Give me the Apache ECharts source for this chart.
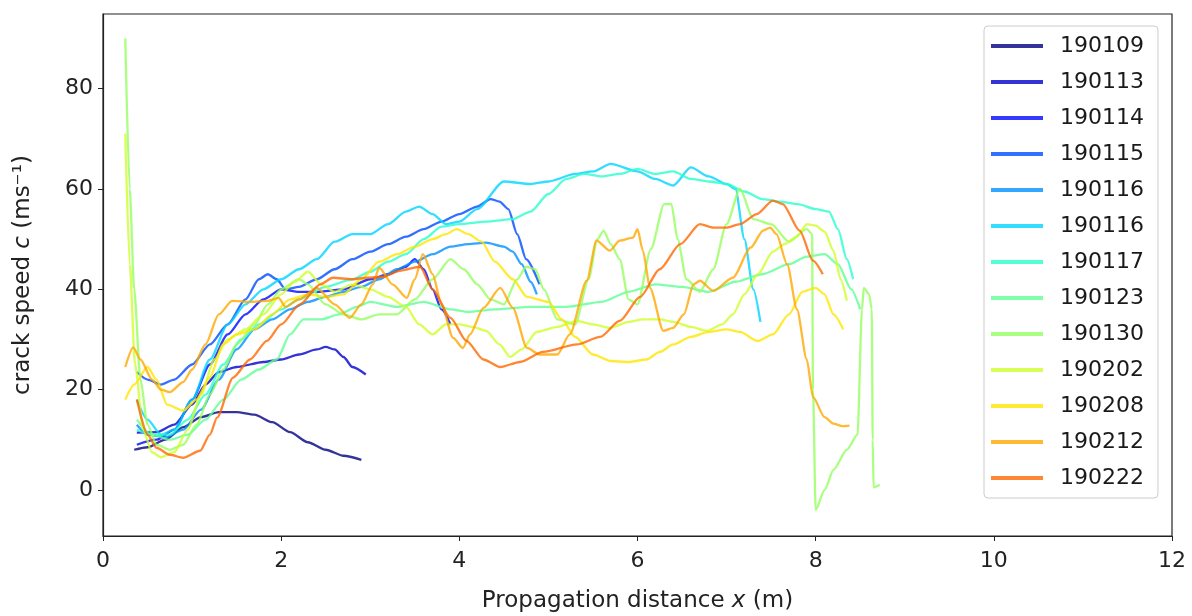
<!DOCTYPE html>
<html>
<head>
<meta charset="UTF-8"/>
<title>crack speed</title>
<script src="https://cdn.jsdelivr.net/npm/echarts@6/dist/echarts.min.js"></script>
<style>
  html, body { margin: 0; padding: 0; background: #fff; }
  #chart { width: 1192px; height: 616px; }
</style>
</head>
<body>
<div id="chart"></div>
<script type="text/javascript">

    // run names (legend order) and jet colours
    var runNames = ['190109', '190113', '190114', '190115', '190116', '190116', '190117',
                    '190123', '190130', '190202', '190208', '190212', '190222'];
    var runColors = ['#000080', '#0000cd', '#0008ff', '#004cff', '#0090ff', '#00d4ff', '#29ffce',
                     '#60ff96', '#96ff60', '#ceff29', '#ffe600', '#ffa700', '#ff6800'];

    // [x (m), c (m/s)]
    var r190109 = [[0.35,8],[0.5,8.5],[0.7,10],[0.9,12.5],[1.1,14.5],[1.3,15.5],[1.5,15.5],[1.7,15],
        [1.9,13.5],[2.1,11.5],[2.3,9.5],[2.5,8],[2.7,6.8],[2.9,6]];
    var r190113 = [[0.38,11.4],[0.6,11.5],[0.8,13],[1.0,17],[1.15,21],[1.3,23.5],[1.5,24.5],[1.8,25.5],
        [2.0,26],[2.2,27],[2.4,28],[2.5,28.5],[2.6,28],[2.7,26.5],[2.8,24.5],[2.95,23]];
    var r190114 = [[0.38,9],[0.6,10],[0.8,12],[1.0,18],[1.2,25],[1.4,31],[1.6,35],[1.8,38],[2.0,40],
        [2.2,39.5],[2.4,39.5],[2.7,40],[3.0,42],[3.2,43],[3.4,44.5],[3.5,46],[3.6,44],[3.7,40],[3.8,36],[3.9,33]];
    var r190115 = [[0.38,23.5],[0.5,22],[0.65,21],[0.8,22],[1.0,25],[1.2,29],[1.4,33],[1.6,38],[1.75,42],
        [1.85,43],[1.95,42],[2.05,40],[2.2,40.5],[2.4,42],[2.6,44],[2.8,46],[3.0,47.5],[3.2,49],[3.4,50.5],
        [3.6,52],[3.8,53.5],[4.0,55],[4.2,56.5],[4.35,58],[4.45,57.5],[4.55,56],[4.65,51],[4.75,46],[4.9,41]];
    var r190116a = [[0.38,13],[0.5,11],[0.7,10.5],[0.9,12],[1.1,16],[1.3,22],[1.5,28],[1.7,32],[1.9,34],
        [2.1,36],[2.3,37.5],[2.5,38.5],[2.7,39.5],[2.9,40.5],[3.1,42],[3.3,44],[3.5,45.5],[3.7,47],[3.9,48.5],
        [4.1,49],[4.3,49.3],[4.5,48.5],[4.6,47.5],[4.7,45],[4.8,41.5],[4.87,39]];
    var r190116b = [[0.38,18],[0.5,14],[0.65,11],[0.8,12],[1.0,18],[1.2,26],[1.4,33],[1.6,37],[1.8,40],
        [2.0,42],[2.2,44],[2.4,46],[2.6,49.5],[2.8,51],[3.0,51],[3.2,53],[3.4,55.5],[3.55,56.5],[3.7,55],
        [3.85,53],[4.0,53.5],[4.2,56],[4.5,61.5],[4.8,61],[5.0,61.5],[5.3,63],[5.5,63.5],[5.7,65],[6.0,63.5],
        [6.2,62],[6.4,60.7],[6.6,64.3],[6.8,62.5],[7.0,61],[7.1,60],[7.2,50],[7.3,40],[7.38,33.5]];
    var r190117 = [[0.38,12],[0.55,11],[0.75,11],[0.95,14],[1.15,19],[1.35,25],[1.55,30],[1.75,33],[2.0,36],
        [2.2,38],[2.5,40.5],[2.8,42],[3.0,43.5],[3.2,45.5],[3.4,47],[3.6,50],[3.8,52.5],[4.0,53],[4.3,53.5],
        [4.6,54],[4.8,55.5],[5.0,59],[5.2,62],[5.4,63],[5.6,62.5],[5.8,63],[6.0,64],[6.2,63],[6.4,63.5],
        [6.6,62],[6.8,61.5],[7.0,61],[7.2,59.5],[7.4,58],[7.6,57.5],[7.8,57],[8.0,56],[8.15,55.5],
        [8.25,52],[8.35,46],[8.42,42]];
    var r190123 = [[0.38,14],[0.55,11],[0.75,10],[0.95,11],[1.15,14],[1.35,18],[1.55,22],[1.75,24],[1.95,26],
        [2.1,31],[2.25,34],[2.45,34],[2.65,35],[2.85,36.5],[3.0,37.5],[3.3,36.5],[3.6,37.5],[3.9,36],[4.1,35.5],
        [4.4,36],[4.8,36.5],[5.2,36.5],[5.6,37.5],[5.9,39.5],[6.2,41],[6.5,40.5],[6.8,39.5],[7.1,41.5],
        [7.4,43],[7.7,45],[7.9,46.5],[8.1,47],[8.25,45],[8.4,40],[8.5,36]];
    var r190130 = [[0.25,90],[0.3,60],[0.35,40],[0.42,22],[0.5,13],[0.6,9],[0.75,8],[0.9,9],[1.05,13],
        [1.2,19],[1.35,24],[1.5,29],[1.7,33],[1.85,37],[2.0,40],[2.2,42],[2.3,41],[2.5,37],[2.7,35],[2.9,34],
        [3.1,35],[3.3,35],[3.5,38],[3.7,42],[3.9,46],[4.05,44],[4.2,41],[4.35,38],[4.5,37],[4.65,42],
        [4.75,44.5],[4.85,44],[4.95,40],[5.1,34],[5.3,33],[5.45,42],[5.55,50],[5.62,51.7],[5.7,49],[5.8,46],
        [5.9,38],[6.0,37],[6.15,48],[6.3,57],[6.38,57],[6.45,50],[6.55,42],[6.7,39.5],[6.85,44],[7.0,53],
        [7.15,60],[7.3,54],[7.5,53],[7.7,49.5],[7.9,52],[7.96,51],[7.97,20],[8.0,-4],[8.1,0],[8.2,4],
        [8.35,8],[8.47,11],[8.52,36],[8.54,40.3],[8.6,39],[8.63,36],[8.64,10],[8.65,0.5],[8.72,1]];
    var r190202 = [[0.25,71],[0.3,45],[0.36,25],[0.45,12],[0.55,7.5],[0.65,6.5],[0.8,7.5],[0.95,12],[1.1,19],
        [1.25,26],[1.4,30],[1.6,32],[1.8,35],[2.0,39],[2.15,41.5],[2.3,43.5],[2.45,41],[2.6,39.5],[2.8,41],
        [3.0,40],[3.2,38.5],[3.4,36.5],[3.55,33],[3.7,31],[3.85,33],[4.0,33],[4.15,32.5],[4.3,31.7],[4.45,29],
        [4.57,26.5],[4.7,28],[4.87,31.5],[5.1,32.5],[5.32,33.7],[5.5,33],[5.69,32.3],[5.9,33.5],[6.06,34],
        [6.25,34],[6.4,33.5],[6.6,32.5],[6.78,31.7],[6.95,33],[7.07,35],[7.2,39],[7.35,43],[7.52,47.5],
        [7.65,49],[7.79,50.5],[7.9,53],[8.0,52.7],[8.1,51.5],[8.2,47.7],[8.28,42],[8.35,37.7]];
    var r190208 = [[0.25,18],[0.35,21],[0.5,24.5],[0.6,22],[0.72,17],[0.9,15.8],[1.05,18],[1.2,22.5],[1.35,29],
        [1.5,31],[1.7,32],[1.9,35],[2.1,38],[2.3,39],[2.5,38.5],[2.7,39],[2.9,42],[3.1,45.5],[3.3,47],[3.5,48.5],
        [3.7,50],[3.85,51],[3.97,52],[4.1,51],[4.25,49.5],[4.4,45.5],[4.6,42],[4.76,38.5],[5.0,37.5],[5.15,34],
        [5.3,30.5],[5.5,27],[5.7,25.7],[5.9,25.5],[6.1,26],[6.25,27.5],[6.4,29],[6.6,30.5],[6.8,31.5],[7.0,32],
        [7.15,31.5],[7.35,29.7],[7.52,31],[7.7,35],[7.85,39.5],[8.0,40.3],[8.1,39],[8.2,35],[8.31,32]];
    var r190212 = [[0.25,24.5],[0.34,28.4],[0.42,26],[0.55,22],[0.65,20],[0.75,19.5],[0.9,21.5],[1.0,24],
        [1.15,29],[1.3,35],[1.45,37.7],[1.65,37.5],[1.85,37.7],[1.97,38.3],[2.05,36.5],[2.2,38],[2.4,40.3],
        [2.6,37],[2.77,34.3],[2.9,37],[3.03,41],[3.1,44.3],[3.25,41],[3.41,38.3],[3.5,42],[3.59,47],[3.7,43],
        [3.8,37],[3.93,30.3],[4.04,28.3],[4.12,31],[4.27,36.3],[4.46,40.3],[4.6,36.3],[4.76,28.3],[4.9,27],
        [5.1,27],[5.24,31],[5.43,41.7],[5.54,49.7],[5.69,47.7],[5.8,49.7],[5.95,50.3],[6.0,52],[6.06,47.7],
        [6.14,40.3],[6.29,31.7],[6.4,32.3],[6.52,35],[6.63,41],[6.7,41.7],[6.85,39.7],[7.07,42.3],[7.27,48.3],
        [7.41,51.7],[7.49,52.3],[7.56,51],[7.68,45],[7.79,36],[7.9,26],[7.97,18.5],[8.1,14.5],[8.2,13.2],
        [8.3,12.7],[8.38,12.8]];
    var r190222 = [[0.38,18],[0.5,11],[0.6,8.4],[0.75,7],[0.9,6.4],[1.09,7.8],[1.2,11],[1.28,14.4],[1.46,22.4],
        [1.65,26],[1.84,29.7],[2.0,33],[2.21,37],[2.44,41],[2.58,42.3],[2.8,42],[2.96,42.3],[3.15,42.5],
        [3.33,43.7],[3.56,44.5],[3.7,40],[3.9,34.3],[4.08,29.7],[4.27,26],[4.46,24.5],[4.68,25.5],[4.94,27.5],
        [5.32,29],[5.58,30.5],[5.8,33.7],[6.03,38.5],[6.25,44],[6.48,49],[6.7,53],[6.85,52.3],[7.0,52.3],
        [7.15,53],[7.34,55],[7.52,57.7],[7.63,57],[7.82,51.7],[7.97,45.7],[8.08,43]];

    var runData = [r190109, r190113, r190114, r190115, r190116a, r190116b, r190117,
                   r190123, r190130, r190202, r190208, r190212, r190222];

    var xTicks = [0, 2, 4, 6, 8, 10, 12];
    var yTicks = [0, 20, 40, 60, 80];

    var font = 'DejaVu Sans';
    var chart = echarts.init(document.getElementById('chart'));

    var seriesList = [];
    for (var i = 0; i < runData.length; i++) {
        seriesList.push({
            name: runNames[i] + '\u200b'.repeat(i),   // keep the two 190116 runs apart
            type: 'line',
            data: runData[i],
            symbol: 'none',
            smooth: 0.25,
            smoothMonotone: 'x',
            color: runColors[i],
            itemStyle: { opacity: 0.8 },
            lineStyle: { width: 2.3, opacity: 0.8 }
        });
    }

    chart.setOption({
        animation: false,
        textStyle: { fontFamily: font },
        grid: {
            left: 103, right: 20, top: 14, bottom: 80,
            outerBoundsMode: 'none', containLabel: false,
            show: true, borderColor: '#222', borderWidth: 1.2
        },
        legend: {
            orient: 'vertical',
            left: 984, top: 26,
            padding: [9, 14, 9, 7],
            icon: 'rect',
            itemWidth: 52, itemHeight: 4, itemGap: 14,
            backgroundColor: 'rgba(255,255,255,0.8)',
            borderColor: '#ccc', borderWidth: 1, borderRadius: 4,
            textStyle: { fontFamily: font, fontSize: 22, lineHeight: 22, color: '#1a1a1a', padding: [0, 0, 0, 12] },
            formatter: function (n) { return n.replace(/\u200b/g, ''); },
            data: seriesList.map(function (s) { return s.name; })
        },
        xAxis: {
            type: 'value', min: 0, max: 12, interval: 2,
            axisLine: { show: true, onZero: false, lineStyle: { color: '#222', width: 1.2 } },
            axisTick: { show: true, length: 5, lineStyle: { color: '#222' } },
            axisLabel: { fontSize: 22, color: '#222', margin: 14, fontFamily: font,
                customValues: xTicks },
            splitLine: { show: false },
            name: '{n|Propagation distance }{i|x}{n| (m)}',
            nameLocation: 'middle', nameGap: 54,
            nameTextStyle: {
                rich: {
                    n: { fontSize: 23, color: '#222', fontFamily: font },
                    i: { fontSize: 23, color: '#222', fontFamily: font, fontStyle: 'italic' }
                }
            }
        },
        yAxis: {
            type: 'value', min: -9.2, max: 94.9,
            axisLine: { show: true, onZero: false, lineStyle: { color: '#222', width: 1.2 } },
            axisTick: { show: true, length: 5, lineStyle: { color: '#222' }, customValues: yTicks },
            axisLabel: { fontSize: 22, color: '#222', margin: 10, fontFamily: font,
                customValues: yTicks },
            splitLine: { show: false },
            name: '{n|crack speed }{i|c}{n| (ms\u207b\u00b9)}',
            nameLocation: 'middle', nameGap: 68, nameRotate: 90,
            nameTextStyle: {
                rich: {
                    n: { fontSize: 23, color: '#222', fontFamily: font },
                    i: { fontSize: 23, color: '#222', fontFamily: font, fontStyle: 'italic' }
                }
            }
        },
        series: seriesList
    });
</script>
</body>
</html>
